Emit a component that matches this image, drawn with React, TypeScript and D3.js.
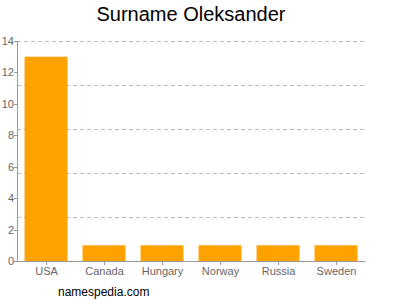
import React from "react";
import * as d3 from "d3";

const categories = ["USA", "Canada", "Hungary", "Norway", "Russia", "Sweden"];
const values = [13, 1, 1, 1, 1, 1];
const yTicks = [0, 2, 4, 6, 8, 10, 12, 14];
const gridValues = [2.8, 5.6, 8.4, 11.2, 14];
const title = "Surname Oleksander";
const credit = "namespedia.com";

export default function App() {
  const W = 400, H = 300;
  const left = 17, right = 365, top = 41, bottom = 261;
  const x = d3.scaleBand<string>().domain(categories).range([left, right]).paddingInner(0.26).paddingOuter(0.13);
  const y = d3.scaleLinear().domain([0, 14]).range([bottom, top]);
  const font = "'Liberation Sans', Arial, sans-serif";
  return (
    <svg width={W} height={H} style={{ position: "absolute", left: 0, top: 0 }} fontFamily={font}>
      <rect x={0} y={0} width={W} height={H} fill="#fff" />
      <text x={(left + right) / 2} y={21} textAnchor="middle" fontSize={20} fill="#000">{title}</text>
      {gridValues.map((g) => (
        <line key={g} x1={left} x2={right} y1={Math.round(y(g)) + 0.5} y2={Math.round(y(g)) + 0.5} stroke="#bbb" strokeDasharray="4,3" />
      ))}
      {categories.map((c, i) => (
        <rect key={c} x={x(c)} y={y(values[i])} width={x.bandwidth()} height={bottom - y(values[i])} fill="#ffa200" />
      ))}
      <line x1={left + 0.5} x2={left + 0.5} y1={top} y2={bottom} stroke="#999" />
      <line x1={left} x2={right} y1={bottom + 0.5} y2={bottom + 0.5} stroke="#999" />
      {yTicks.map((t) => (
        <g key={t}>
          <line x1={left - 3} x2={left} y1={Math.round(y(t)) + 0.5} y2={Math.round(y(t)) + 0.5} stroke="#999" />
          <text x={left - 3} y={y(t) + 4} textAnchor="end" fontSize={11} fill="#666">{t}</text>
        </g>
      ))}
      {categories.map((c) => {
        const cx = Math.round((x(c) as number) + x.bandwidth() / 2) + 0.5;
        return (
          <g key={c}>
            <line x1={cx} x2={cx} y1={bottom} y2={bottom + 4} stroke="#999" />
            <text x={cx} y={bottom + 14} textAnchor="middle" fontSize={11} fill="#666">{c}</text>
          </g>
        );
      })}
      <text x={58} y={296} fontSize={12} fill="#000">{credit}</text>
    </svg>
  );
}
